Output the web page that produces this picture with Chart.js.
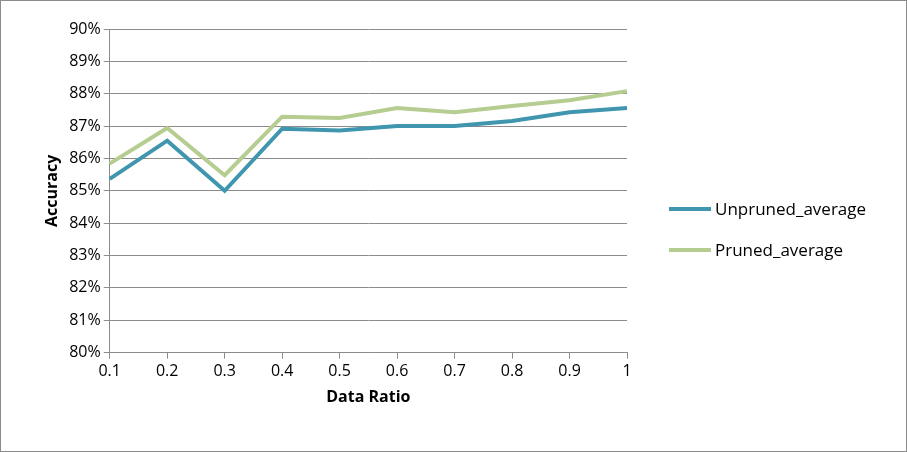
<!DOCTYPE html>
<html><head><meta charset="utf-8">
<script src="https://cdn.jsdelivr.net/npm/chart.js@4"></script>
<style>
body{margin:0;background:#fff;font-family:"Open Sans","Liberation Sans",sans-serif;}
#wrap{position:relative;width:905px;height:450px;border:1px solid #8c8c8c;}
#legend{position:absolute;left:668px;top:187px;font-size:17px;color:#000;}
#legend div{display:flex;align-items:center;height:41px;}
#legend span{display:inline-block;width:42px;height:4px;margin-right:4px;}
</style></head>
<body>
<div id="wrap">
<canvas id="c" width="905" height="450"></canvas>
<div id="legend">
<div><span style="background:#4096ae"></span>Unpruned_average</div>
<div><span style="background:#b5cd91"></span>Pruned_average</div>
</div>
</div>
<script>
const ratios = ['0.1','0.2','0.3','0.4','0.5','0.6','0.7','0.8','0.9','1'];
const unpruned = [85.37, 86.55, 85.0, 86.92, 86.86, 87.0, 87.0, 87.16, 87.43, 87.56];
const pruned = [85.84, 86.94, 85.48, 87.29, 87.25, 87.56, 87.43, 87.62, 87.8, 88.08];

new Chart(document.getElementById('c').getContext('2d'), {
    type: 'line',
    data: {
        labels: ratios,
        datasets: [
            { label: 'Pruned_average', data: pruned, borderColor: '#b5cd91', borderWidth: 4, pointRadius: 0, tension: 0, borderJoinStyle: 'miter' },
            { label: 'Unpruned_average', data: unpruned, borderColor: '#4096ae', borderWidth: 4, pointRadius: 0, tension: 0, borderJoinStyle: 'miter' }
        ]
    },
    options: {
        responsive: false,
        animation: false,
        layout: { padding: { top: 28, right: 279, left: 38, bottom: 40 } },
        plugins: { legend: { display: false }, tooltip: { enabled: false } },
        scales: {
            x: {
                offset: false,
                grid: { drawOnChartArea: false, color: '#8c8c8c', tickLength: 6 },
                border: { color: '#8c8c8c' },
                ticks: { color: '#000', font: { size: 16, family: 'Open Sans' }, maxRotation: 0 },
                title: { display: true, text: 'Data Ratio', color: '#000', font: { size: 16, weight: 'bold', family: 'Open Sans' } }
            },
            y: {
                min: 80, max: 90,
                grid: { color: '#8c8c8c', tickLength: 6 },
                border: { color: '#8c8c8c' },
                ticks: { stepSize: 1, color: '#000', font: { size: 16, family: 'Open Sans' }, callback: v => v + '%' },
                title: { display: true, text: 'Accuracy', color: '#000', font: { size: 16, weight: 'bold', family: 'Open Sans' } }
            }
        }
    }
});
</script>
</body></html>
